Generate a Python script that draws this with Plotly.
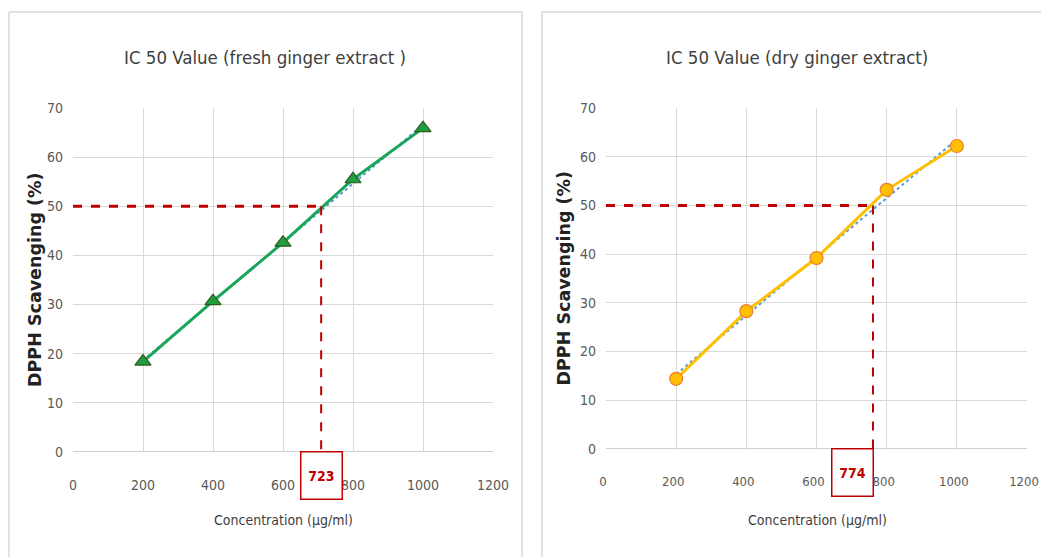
import numpy as np
import plotly.graph_objects as go

conc = [200, 400, 600, 800, 1000]
fresh = [18.4, 30.7, 42.6, 55.5, 65.9]
dry = [14.4, 28.3, 39.2, 53.2, 62.2]
ic50_labels = ["723", "774"]
ic50_line_x = [709, 761]
titles = ["IC 50 Value (fresh ginger extract )", "IC 50 Value (dry ginger extract)"]
x_ticks = [0, 200, 400, 600, 800, 1000, 1200]
y_ticks = [0, 10, 20, 30, 40, 50, 60, 70]

W, H = 1041, 557
FONT = "DejaVu Sans Condensed, Liberation Sans Narrow, sans-serif"
RED = "#c00000"
BORDER = "#d9d9d9"


def px(v):
    return v / W


def py(v):
    return 1 - v / H


panels = [
    dict(xd=[px(73), px(493)], yd=[py(452), py(108)], series=fresh,
         color="#19a55a", mfill="#1f9e3e", mline="#2f5a1e", symbol="triangle-up", msize=14,
         title_x=265, xt_x=283, box_shift=0, yt_x=35, xtick_size=14, xtick_shift=0),
    dict(xd=[px(606), px(1027)], yd=[py(449), py(108)], series=dry,
         color="#ffc000", mfill="#ffc000", mline="#ed7d31", symbol="circle", msize=13,
         title_x=797, xt_x=817, box_shift=-20, yt_x=563, xtick_size=13, xtick_shift=-3),
]

fig = go.Figure()
annotations = []
shapes = []

for i, p in enumerate(panels):
    xa = "x" if i == 0 else "x2"
    ya = "y" if i == 0 else "y2"
    ys = np.array(p["series"])
    xs = np.array(conc)
    k, b = np.polyfit(xs, ys, 1)
    fit = k * xs + b
    # linear trendline
    fig.add_trace(go.Scatter(x=conc, y=fit, mode="lines", xaxis=xa, yaxis=ya,
                             line=dict(color="#5b9bd5", width=2, dash="dot"),
                             showlegend=False, hoverinfo="skip"))
    # data line
    fig.add_trace(go.Scatter(x=conc, y=p["series"], mode="lines+markers", xaxis=xa, yaxis=ya,
                             line=dict(color=p["color"], width=3),
                             marker=dict(symbol=p["symbol"], size=p["msize"], color=p["mfill"],
                                         line=dict(color=p["mline"], width=1.2)),
                             showlegend=False))
    # IC50 dashed guide lines
    xl = ic50_line_x[i]
    fig.add_trace(go.Scatter(x=[0, xl], y=[50, 50], mode="lines", xaxis=xa, yaxis=ya,
                             line=dict(color=RED, width=3, dash="dash"), showlegend=False,
                             hoverinfo="skip"))
    fig.add_trace(go.Scatter(x=[xl, xl], y=[50, 0], mode="lines", xaxis=xa, yaxis=ya,
                             line=dict(color=RED, width=2, dash="dash"), showlegend=False,
                             hoverinfo="skip", cliponaxis=False))
    # boxed IC50 label
    annotations.append(dict(x=xl, xref=xa, y=p["yd"][0], yref="paper", yanchor="top",
                            xanchor="center", xshift=p["box_shift"], yshift=1,
                            text="<b>%s</b>" % ic50_labels[i], showarrow=False,
                            font=dict(family=FONT, size=14, color=RED),
                            bordercolor=RED, borderwidth=1.5, bgcolor="white",
                            width=38, height=44, align="center", valign="middle"))
    # title
    annotations.append(dict(x=px(p["title_x"]), y=py(57), xref="paper", yref="paper",
                            text=titles[i], showarrow=False, xanchor="center", yanchor="middle",
                            font=dict(family=FONT, size=18.5, color="#404040")))
    # x title
    annotations.append(dict(x=px(p["xt_x"]), y=py(520), xref="paper", yref="paper",
                            text="Concentration (µg/ml)", showarrow=False, xanchor="center",
                            yanchor="middle", font=dict(family=FONT, size=14, color="#404040")))
    # y title
    annotations.append(dict(x=px(p["yt_x"]), y=(p["yd"][0] + p["yd"][1]) / 2, xref="paper",
                            yref="paper", text="<b>DPPH Scavenging (%)</b>", showarrow=False,
                            textangle=-90, xanchor="center", yanchor="middle",
                            font=dict(family="DejaVu Sans, Arial, sans-serif", size=17.5,
                                      color="#222222")))
    axis_common = dict(showgrid=True, gridcolor="#d9d9d9", gridwidth=1, zeroline=False,
                       ticks="", showline=False, automargin=False, ticklabeloverflow="allow")
    xkey = "xaxis" if i == 0 else "xaxis2"
    ykey = "yaxis" if i == 0 else "yaxis2"
    fig.update_layout(**{
        xkey: dict(domain=p["xd"], range=[0, 1200], tickvals=x_ticks, anchor=ya,
                   ticklabelstandoff=23, ticklabelshift=p["xtick_shift"],
                   tickfont=dict(family=FONT, size=p["xtick_size"], color="#595959"),
                   **axis_common),
        ykey: dict(domain=p["yd"], range=[0, 70], tickvals=y_ticks, anchor=xa,
                   ticklabelstandoff=9,
                   tickfont=dict(family=FONT, size=14, color="#595959"),
                   **axis_common),
    })
    # x axis baseline
    shapes.append(dict(type="line", xref=xa, yref=ya, x0=0, x1=1200, y0=0, y1=0,
                       line=dict(color="#bfbfbf", width=1.5), layer="below"))


# panel borders (top / left / right edges only, panels run past the bottom)
def edge(x0, y0, x1, y1):
    shapes.append(dict(type="line", xref="paper", yref="paper", x0=px(x0), x1=px(x1),
                       y0=py(y0), y1=py(y1), line=dict(color=BORDER, width=1.5), layer="below"))


edge(9, 12, 522, 12)
edge(9, 12, 9, 557)
edge(522, 12, 522, 557)
edge(542, 12, 1041, 12)
edge(542, 12, 542, 557)

fig.update_layout(width=W, height=H, margin=dict(l=0, r=0, t=0, b=0, autoexpand=False),
                  autosize=False, paper_bgcolor="white", plot_bgcolor="white",
                  annotations=annotations, shapes=shapes, showlegend=False)

fig.write_html("out.html")
